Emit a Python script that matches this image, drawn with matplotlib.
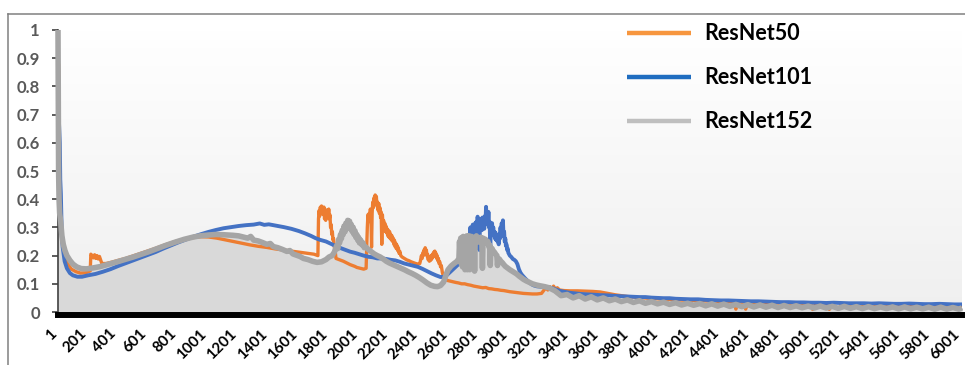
import matplotlib
matplotlib.use("Agg")
import matplotlib.pyplot as plt
import numpy as np
from matplotlib.lines import Line2D
from matplotlib.colors import LinearSegmentedColormap
from matplotlib.transforms import ScaledTranslation

plt.rcParams["font.family"] = ["Lato", "DejaVu Sans"]
plt.rcParams["font.weight"] = "bold"

series_names = ["ResNet50", "ResNet101", "ResNet152"]
x_ticks = list(range(1, 6002, 200))
x_tick_labels = [str(v) for v in x_ticks]
y_ticks = [0, 0.1, 0.2, 0.3, 0.4, 0.5, 0.6, 0.7, 0.8, 0.9, 1.0]
y_tick_labels = ["0", "0.1", "0.2", "0.3", "0.4", "0.5", "0.6", "0.7", "0.8", "0.9", "1"]

# (index, value) samples for each network
resnet50_pts = [
    (1, 0.74), (4, 0.88), (7, 0.82), (10, 0.52), (14, 0.40), (20, 0.31), (30, 0.245),
    (45, 0.2), (65, 0.17), (90, 0.152), (120, 0.143), (150, 0.138), (185, 0.139),
    (215, 0.146), (219, 0.205), (228, 0.2), (236, 0.192), (244, 0.203), (252, 0.19),
    (260, 0.2), (268, 0.188), (276, 0.197), (284, 0.185), (292, 0.172), (320, 0.172),
    (360, 0.177), (400, 0.183), (450, 0.19), (500, 0.199), (550, 0.208), (600, 0.217),
    (650, 0.226), (700, 0.236), (750, 0.245), (800, 0.253), (850, 0.259), (900, 0.264),
    (950, 0.267), (1000, 0.266), (1055, 0.262), (1110, 0.256), (1163, 0.25), (1220, 0.244),
    (1275, 0.238), (1330, 0.233), (1387, 0.229), (1440, 0.224), (1494, 0.22), (1550, 0.216),
    (1607, 0.212), (1660, 0.208), (1700, 0.205), (1726, 0.2),
    (1730, 0.33), (1734, 0.36), (1738, 0.34), (1742, 0.372), (1746, 0.35), (1750, 0.376),
    (1754, 0.355), (1758, 0.37), (1762, 0.345), (1766, 0.372), (1770, 0.33), (1774, 0.35),
    (1778, 0.325), (1782, 0.362), (1786, 0.34), (1790, 0.36), (1794, 0.335), (1798, 0.365),
    (1802, 0.33), (1806, 0.345), (1810, 0.3), (1814, 0.31), (1818, 0.275), (1822, 0.285),
    (1826, 0.255), (1830, 0.26), (1835, 0.23), (1840, 0.22), (1846, 0.19),
    (1865, 0.186), (1880, 0.183), (1895, 0.18), (1910, 0.176), (1925, 0.172), (1940, 0.168),
    (1955, 0.165), (1970, 0.162), (1985, 0.158), (2000, 0.156), (2015, 0.154), (2030, 0.152),
    (2046, 0.155),
    (2050, 0.23), (2054, 0.3), (2058, 0.345), (2062, 0.32), (2066, 0.35), (2070, 0.33),
    (2074, 0.365), (2078, 0.34), (2082, 0.23), (2086, 0.35), (2090, 0.39), (2094, 0.37),
    (2098, 0.405), (2102, 0.385), (2106, 0.415), (2110, 0.39), (2114, 0.41), (2118, 0.375),
    (2122, 0.39), (2126, 0.36), (2130, 0.385), (2134, 0.35), (2138, 0.37), (2142, 0.335),
    (2146, 0.355), (2150, 0.24), (2154, 0.345), (2158, 0.31), (2162, 0.325), (2166, 0.295),
    (2170, 0.315), (2174, 0.285), (2178, 0.305), (2182, 0.28), (2186, 0.295), (2190, 0.27),
    (2194, 0.29), (2198, 0.265), (2202, 0.285), (2206, 0.26), (2210, 0.275), (2214, 0.255),
    (2218, 0.27), (2222, 0.25), (2226, 0.262), (2230, 0.24), (2234, 0.255), (2238, 0.232),
    (2242, 0.245), (2246, 0.225), (2250, 0.238), (2255, 0.218), (2260, 0.228), (2265, 0.208),
    (2270, 0.215), (2276, 0.2), (2285, 0.195), (2300, 0.19), (2315, 0.185), (2330, 0.182),
    (2345, 0.178), (2360, 0.175), (2375, 0.172), (2390, 0.17), (2402, 0.172),
    (2408, 0.185), (2413, 0.2), (2418, 0.19), (2422, 0.21), (2426, 0.2), (2430, 0.22),
    (2434, 0.205), (2438, 0.228), (2442, 0.21), (2446, 0.22), (2450, 0.198), (2454, 0.205),
    (2458, 0.185), (2462, 0.195), (2466, 0.18), (2470, 0.195), (2474, 0.183), (2478, 0.2),
    (2482, 0.188), (2486, 0.205), (2490, 0.195), (2494, 0.212), (2498, 0.2), (2502, 0.216),
    (2506, 0.198), (2510, 0.208), (2514, 0.19), (2518, 0.2), (2522, 0.182), (2526, 0.19),
    (2530, 0.172), (2535, 0.178), (2540, 0.16), (2545, 0.165), (2552, 0.14), (2560, 0.125),
    (2570, 0.117),
    (2585, 0.112), (2600, 0.11), (2620, 0.107), (2640, 0.105), (2660, 0.103), (2680, 0.1),
    (2700, 0.1), (2720, 0.097), (2740, 0.095), (2760, 0.092), (2780, 0.09), (2800, 0.088),
    (2820, 0.086), (2840, 0.087), (2860, 0.083), (2880, 0.082), (2900, 0.08), (2920, 0.079),
    (2940, 0.077), (2960, 0.076), (2980, 0.074), (3000, 0.072), (3030, 0.07), (3060, 0.068),
    (3090, 0.066), (3120, 0.065), (3150, 0.064), (3180, 0.064), (3210, 0.066), (3230, 0.08),
    (3240, 0.088), (3252, 0.078), (3265, 0.09), (3278, 0.08), (3290, 0.092), (3302, 0.08),
    (3315, 0.086), (3330, 0.078), (3360, 0.076), (3400, 0.075), (3450, 0.075), (3500, 0.074),
    (3550, 0.073), (3600, 0.071), (3650, 0.066), (3700, 0.061), (3780, 0.055), (3860, 0.051),
    (3940, 0.048), (4020, 0.045), (4100, 0.043), (4200, 0.041), (4300, 0.039), (4400, 0.037),
    (4490, 0.035), (4500, 0.01), (4515, 0.035), (4555, 0.034), (4565, 0.01), (4580, 0.034),
    (4700, 0.032), (4800, 0.031), (4900, 0.03), (5000, 0.029), (5010, 0.009), (5030, 0.029),
    (5100, 0.028), (5120, 0.009), (5140, 0.028), (5180, 0.01), (5200, 0.027), (5300, 0.027),
    (5400, 0.026), (5500, 0.025), (5600, 0.024), (5700, 0.024), (5800, 0.023), (5900, 0.023),
    (6001, 0.022),
]

resnet101_pts = [
    (1, 0.8), (4, 0.76), (7, 0.68), (10, 0.64), (13, 0.6), (16, 0.47), (20, 0.42), (25, 0.3),
    (32, 0.23), (45, 0.18), (60, 0.155), (80, 0.138), (100, 0.13), (130, 0.125), (160, 0.125),
    (200, 0.13), (250, 0.135), (300, 0.143), (350, 0.152), (400, 0.163), (450, 0.173),
    (500, 0.183), (550, 0.193), (600, 0.203), (650, 0.213), (700, 0.225), (750, 0.236),
    (800, 0.247), (850, 0.257), (900, 0.267), (950, 0.276), (1000, 0.284), (1050, 0.291),
    (1100, 0.297), (1150, 0.301), (1200, 0.305), (1250, 0.308), (1300, 0.31), (1340, 0.314),
    (1370, 0.309), (1400, 0.311), (1450, 0.306), (1500, 0.301), (1550, 0.295), (1600, 0.287),
    (1640, 0.279), (1680, 0.27), (1710, 0.262), (1740, 0.256), (1780, 0.25), (1820, 0.24),
    (1850, 0.232), (1880, 0.226), (1910, 0.22), (1940, 0.214), (1970, 0.21), (2000, 0.205),
    (2030, 0.2), (2060, 0.196), (2090, 0.194), (2120, 0.19), (2150, 0.19), (2180, 0.188),
    (2210, 0.185), (2240, 0.183), (2270, 0.178), (2300, 0.172), (2330, 0.168), (2360, 0.164),
    (2390, 0.16), (2420, 0.153), (2450, 0.145), (2480, 0.137), (2510, 0.13), (2540, 0.124),
    (2570, 0.125), (2600, 0.14), (2630, 0.155), (2660, 0.17), (2690, 0.19), (2715, 0.21),
    (2734, 0.24),
    (2738, 0.3), (2742, 0.26), (2746, 0.295), (2750, 0.265), (2754, 0.31), (2758, 0.27),
    (2762, 0.3), (2766, 0.275), (2770, 0.315), (2774, 0.285), (2778, 0.32), (2782, 0.29),
    (2786, 0.338), (2790, 0.3), (2794, 0.325), (2798, 0.22), (2802, 0.33), (2806, 0.3),
    (2810, 0.32), (2814, 0.29), (2818, 0.335), (2822, 0.3), (2826, 0.32), (2830, 0.295),
    (2834, 0.34), (2838, 0.31), (2842, 0.373), (2846, 0.33), (2850, 0.35), (2854, 0.31),
    (2858, 0.355), (2862, 0.3), (2866, 0.32), (2870, 0.22), (2874, 0.31), (2878, 0.29),
    (2882, 0.315), (2886, 0.28), (2890, 0.3), (2894, 0.27), (2898, 0.285), (2902, 0.26),
    (2906, 0.28), (2910, 0.255), (2914, 0.27), (2918, 0.25), (2922, 0.265), (2926, 0.24),
    (2930, 0.275), (2934, 0.26), (2938, 0.3), (2942, 0.27), (2946, 0.315), (2950, 0.28),
    (2954, 0.325), (2958, 0.27), (2962, 0.285), (2966, 0.25), (2970, 0.26), (2974, 0.235),
    (2978, 0.24), (2982, 0.22), (2986, 0.225), (2990, 0.21), (2995, 0.205), (3000, 0.2),
    (3010, 0.195), (3020, 0.188), (3030, 0.185), (3040, 0.18), (3050, 0.17), (3060, 0.152),
    (3070, 0.14), (3080, 0.132), (3090, 0.126), (3100, 0.12), (3115, 0.112), (3130, 0.104),
    (3145, 0.098), (3160, 0.094), (3180, 0.091), (3200, 0.09), (3240, 0.088), (3280, 0.085),
    (3330, 0.075), (3400, 0.068), (3470, 0.064), (3530, 0.062), (3600, 0.06), (3650, 0.059),
    (3700, 0.057), (3740, 0.056), (3780, 0.055), (3820, 0.054), (3860, 0.053), (3900, 0.053),
    (3940, 0.051), (3980, 0.05), (4020, 0.049), (4060, 0.049), (4100, 0.047), (4150, 0.046),
    (4200, 0.045), (4250, 0.045), (4300, 0.043), (4350, 0.042), (4400, 0.041), (4450, 0.041),
    (4500, 0.04), (4550, 0.039), (4600, 0.038), (4650, 0.038), (4700, 0.037), (4750, 0.036),
    (4800, 0.035), (4850, 0.035), (4900, 0.034), (4950, 0.034), (5000, 0.033), (5050, 0.033),
    (5100, 0.032), (5150, 0.033), (5200, 0.032), (5250, 0.031), (5300, 0.031), (5350, 0.031),
    (5400, 0.03), (5450, 0.031), (5500, 0.03), (5550, 0.029), (5600, 0.029), (5650, 0.03),
    (5700, 0.029), (5750, 0.028), (5800, 0.028), (5850, 0.029), (5900, 0.028), (5950, 0.027),
    (6001, 0.027),
]

resnet152_pts = [
    (1, 1.0), (3, 0.72), (5, 0.5), (8, 0.4), (12, 0.35), (19, 0.32), (27, 0.27), (36, 0.24),
    (47, 0.218), (60, 0.2), (80, 0.183), (100, 0.17), (125, 0.16), (155, 0.154), (190, 0.153),
    (230, 0.156), (280, 0.161), (340, 0.17), (400, 0.179), (450, 0.187), (500, 0.195),
    (550, 0.204), (600, 0.213), (660, 0.225), (720, 0.237), (780, 0.248), (840, 0.258),
    (900, 0.266), (943, 0.27), (1000, 0.273), (1050, 0.275), (1100, 0.274), (1163, 0.272),
    (1200, 0.27), (1230, 0.266), (1260, 0.262), (1280, 0.268), (1300, 0.255), (1330, 0.252),
    (1360, 0.246), (1387, 0.24), (1410, 0.243), (1430, 0.232), (1460, 0.228), (1490, 0.222),
    (1520, 0.215), (1540, 0.218), (1560, 0.206), (1590, 0.2), (1607, 0.197), (1630, 0.19),
    (1660, 0.186), (1690, 0.18), (1720, 0.176), (1750, 0.178), (1780, 0.186), (1800, 0.195),
    (1820, 0.2), (1835, 0.212), (1850, 0.235), (1858, 0.225), (1864, 0.258), (1870, 0.245),
    (1876, 0.275), (1882, 0.26), (1888, 0.29), (1894, 0.275), (1900, 0.305), (1906, 0.285),
    (1912, 0.315), (1918, 0.295), (1924, 0.325), (1930, 0.305), (1936, 0.322), (1942, 0.295),
    (1948, 0.31), (1954, 0.285), (1960, 0.3), (1966, 0.275), (1972, 0.288), (1978, 0.265),
    (1984, 0.275), (1990, 0.255), (1996, 0.265), (2002, 0.245), (2010, 0.255), (2018, 0.238),
    (2026, 0.245), (2034, 0.228), (2045, 0.23), (2060, 0.222), (2080, 0.214), (2100, 0.206),
    (2120, 0.2), (2140, 0.195), (2160, 0.188), (2180, 0.18), (2200, 0.174), (2225, 0.168),
    (2250, 0.162), (2275, 0.156), (2300, 0.15), (2325, 0.143), (2350, 0.137), (2375, 0.13),
    (2400, 0.122), (2425, 0.113), (2450, 0.103), (2475, 0.095), (2500, 0.091), (2520, 0.09),
    (2540, 0.094), (2560, 0.106), (2575, 0.13), (2590, 0.15), (2610, 0.163), (2630, 0.172),
    (2650, 0.18), (2662, 0.19),
    (2666, 0.25), (2670, 0.2), (2674, 0.262), (2678, 0.17), (2682, 0.258), (2686, 0.16),
    (2690, 0.268), (2694, 0.18), (2698, 0.262), (2702, 0.15), (2706, 0.265), (2710, 0.2),
    (2714, 0.27), (2718, 0.15), (2722, 0.258), (2726, 0.24), (2730, 0.27), (2734, 0.15),
    (2738, 0.262), (2742, 0.245), (2746, 0.268), (2754, 0.255), (2762, 0.262),
    (2766, 0.145), (2770, 0.265), (2778, 0.27), (2786, 0.26), (2794, 0.248), (2798, 0.262),
    (2806, 0.265), (2814, 0.26), (2818, 0.155), (2822, 0.262), (2830, 0.25), (2838, 0.258),
    (2846, 0.245), (2854, 0.25), (2862, 0.23), (2866, 0.238), (2870, 0.165), (2874, 0.228),
    (2882, 0.225), (2890, 0.215), (2898, 0.212), (2906, 0.205), (2914, 0.2), (2918, 0.165),
    (2922, 0.19), (2930, 0.188), (2940, 0.18), (2950, 0.175), (2960, 0.168), (2970, 0.162),
    (2980, 0.158), (2990, 0.154), (3000, 0.15), (3015, 0.145), (3030, 0.14), (3045, 0.135),
    (3060, 0.128), (3075, 0.122), (3090, 0.116), (3110, 0.11), (3130, 0.105), (3150, 0.1),
    (3175, 0.096), (3200, 0.093), (3230, 0.09), (3260, 0.086),
    (3300, 0.075), (3340, 0.058), (3380, 0.062), (3420, 0.05), (3460, 0.058), (3500, 0.046),
    (3540, 0.054), (3580, 0.043), (3620, 0.05), (3660, 0.04), (3700, 0.046), (3740, 0.037),
    (3780, 0.043), (3820, 0.034), (3860, 0.04), (3900, 0.031), (3940, 0.037), (3980, 0.029),
    (4020, 0.035), (4060, 0.027), (4100, 0.033), (4140, 0.025), (4180, 0.031), (4220, 0.024),
    (4260, 0.03), (4300, 0.022), (4340, 0.029), (4380, 0.021), (4420, 0.028), (4460, 0.02),
    (4500, 0.027), (4540, 0.019), (4580, 0.026), (4620, 0.018), (4660, 0.025), (4700, 0.017),
    (4740, 0.024), (4780, 0.016), (4820, 0.023), (4860, 0.016), (4900, 0.022), (4940, 0.015),
    (4980, 0.021), (5020, 0.014), (5060, 0.021), (5100, 0.014), (5140, 0.02), (5180, 0.013),
    (5220, 0.02), (5260, 0.013), (5300, 0.019), (5340, 0.012), (5380, 0.019), (5420, 0.012),
    (5460, 0.018), (5500, 0.012), (5540, 0.018), (5580, 0.011), (5620, 0.018), (5660, 0.011),
    (5700, 0.017), (5740, 0.011), (5780, 0.017), (5820, 0.01), (5860, 0.017), (5900, 0.01),
    (5940, 0.016), (5980, 0.01), (6001, 0.015),
]

line_colors = ["#ED7D31", "#4472C4", "#A5A5A5"]
legend_colors = ["#F7963E", "#1F6DC0", "#BFBFBF"]
line_widths = [2.4, 2.8, 4.0]
fill_color = "#D9D9D9"

W, H = 965, 365
fig = plt.figure(figsize=(W / 100, H / 100), dpi=100)
fig.patch.set_facecolor("white")
ax = fig.add_axes([58 / W, 50 / H, 904 / W, 285 / H])

x_min, x_max = 1, 6001
y_min, y_max = -0.0106, 1.0
ax.set_xlim(x_min, x_max)
ax.set_ylim(y_min, y_max)

# soft vertical gradient behind the plot
bg = LinearSegmentedColormap.from_list("bg", ["#EFEFEF", "#FFFFFF"])
ax.imshow(np.linspace(0, 1, 256).reshape(-1, 1), cmap=bg, aspect="auto",
          origin="lower", extent=(x_min, x_max, y_min, y_max), zorder=0)

series = [resnet50_pts, resnet101_pts, resnet152_pts]
xs152 = [p[0] for p in resnet152_pts]
ys152 = [p[1] for p in resnet152_pts]
ax.fill_between(xs152, 0, ys152, color=fill_color, lw=0, zorder=1)

for pts, col, lw, z in zip(series, line_colors, line_widths, [3, 4, 5]):
    xs = [p[0] for p in pts]
    ys = [p[1] for p in pts]
    ax.plot(xs, ys, color=col, lw=lw, zorder=z, solid_joinstyle="round",
            solid_capstyle="butt", clip_on=False)

for side in ["top", "right"]:
    ax.spines[side].set_visible(False)
ax.spines["bottom"].set_color("black")
ax.spines["bottom"].set_linewidth(4.3)
ax.spines["bottom"].set_zorder(6)
ax.spines["left"].set_color("#404040")
ax.spines["left"].set_linewidth(1.2)

ax.set_yticks(y_ticks)
ax.set_yticklabels(y_tick_labels)
ax.tick_params(axis="y", length=4, width=1.2, color="#404040", pad=9,
               labelsize=12, labelcolor="#595959")
ax.set_xticks(x_ticks)
ax.set_xticklabels(x_tick_labels, rotation=45, ha="right", va="center",
                   rotation_mode="anchor")
ax.tick_params(axis="x", length=0, pad=12, labelsize=11, labelcolor="black")
shift = ScaledTranslation(-4 / 100, 0, fig.dpi_scale_trans)
for lab in ax.get_xticklabels():
    lab.set_fontweight("bold")
    lab.set_transform(lab.get_transform() + shift)
for lab in ax.get_yticklabels():
    lab.set_fontweight("bold")

# chart border (top and left edges)
fig.add_artist(Line2D([8 / W, 1], [1 - 14 / H, 1 - 14 / H], transform=fig.transFigure,
                      color="#808080", lw=1.1))
fig.add_artist(Line2D([8 / W, 8 / W], [0, 1 - 14 / H], transform=fig.transFigure,
                      color="#808080", lw=1.1))

# legend
for i, (name, col) in enumerate(zip(series_names, legend_colors)):
    yy = 1 - (33 + 44 * i) / H
    fig.add_artist(Line2D([627 / W, 691 / W], [yy, yy], transform=fig.transFigure,
                          color=col, lw=3.2, solid_capstyle="butt"))
    fig.text(704 / W, yy, name, va="center", ha="left", fontsize=15.5,
             fontweight="bold", color="black")

fig.savefig("out.png", dpi=100, facecolor="white")
